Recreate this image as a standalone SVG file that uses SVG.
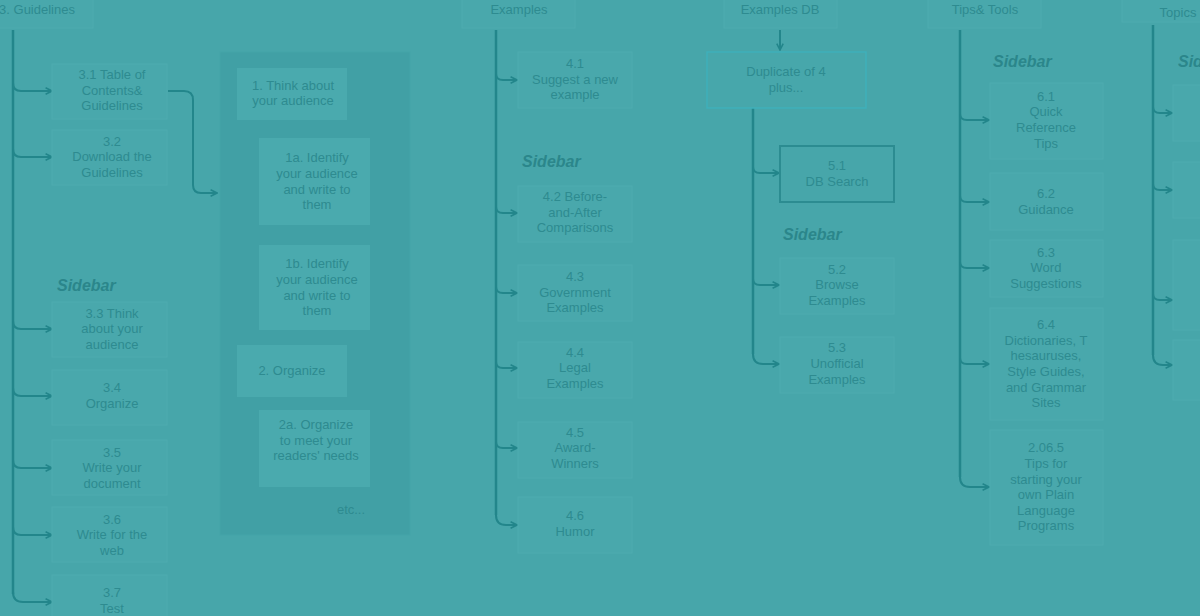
<svg xmlns="http://www.w3.org/2000/svg" width="1200" height="616" viewBox="0 0 1200 616">
<defs>
<marker id="arr" viewBox="0 0 10 10" refX="9" refY="5" markerWidth="8" markerHeight="8" markerUnits="userSpaceOnUse" orient="auto">
<path d="M1,1 L9,5 L1,9" fill="none" stroke="#23868b" stroke-width="2"/>
</marker>
<style>
.bg{fill:#47a6aa}
.grp{fill:#41a0a5;stroke:#45a4a8;stroke-width:1}
.n{fill:#49a8ac;stroke:#4fabaf;stroke-width:1}
.ni{fill:#4aaaae;stroke:none}
.hl{fill:#47a7ab;stroke:#3fb0ba;stroke-width:1.5}
.dk{fill:#47a6aa;stroke:#2c8c91;stroke-width:2}
.t{font-family:"Liberation Sans",Arial,sans-serif;font-size:13px;fill:#2e8b90;text-anchor:middle}
.sb{font-family:"Liberation Sans",Arial,sans-serif;font-size:16px;font-weight:bold;font-style:italic;fill:#2b868b}
.c{fill:none;stroke:#23868b;stroke-width:2.5}
.b{fill:none;stroke:#23868b;stroke-width:2;marker-end:url(#arr)}
</style>
</defs>
<rect class="bg" x="0" y="0" width="1200" height="616"/>

<g id="connectors">
<path class="c" d="M13,30 V594"/>
<path class="b" d="M13,83 Q13,91 21,91 H52"/>
<path class="b" d="M13,149 Q13,157 21,157 H52"/>
<path class="b" d="M13,321 Q13,329 21,329 H52"/>
<path class="b" d="M13,388 Q13,396 21,396 H52"/>
<path class="b" d="M13,460 Q13,468 21,468 H52"/>
<path class="b" d="M13,527 Q13,535 21,535 H52"/>
<path class="b" d="M13,592 Q13,602 23,602 H52"/>
<path class="b" d="M168,91 H184 Q193,91 193,100 V185 Q193,193 201,193 H217"/>

<path class="c" d="M496,30 V515"/>
<path class="b" d="M496,74 Q496,80 503,80 H517"/>
<path class="b" d="M496,207 Q496,213 503,213 H517"/>
<path class="b" d="M496,287 Q496,293 503,293 H517"/>
<path class="b" d="M496,362 Q496,368 503,368 H517"/>
<path class="b" d="M496,442 Q496,448 503,448 H517"/>
<path class="b" d="M496,515 Q496,525 506,525 H517"/>

<path class="b" d="M780,30 V50"/>
<path class="c" d="M753,108 V354"/>
<path class="b" d="M753,167 Q753,173 760,173 H779"/>
<path class="b" d="M753,279 Q753,285 760,285 H779"/>
<path class="b" d="M753,354 Q753,364 763,364 H779"/>

<path class="c" d="M960,30 V477"/>
<path class="b" d="M960,114 Q960,120 967,120 H989"/>
<path class="b" d="M960,196 Q960,202 967,202 H989"/>
<path class="b" d="M960,262 Q960,268 967,268 H989"/>
<path class="b" d="M960,358 Q960,364 967,364 H989"/>
<path class="b" d="M960,477 Q960,487 970,487 H989"/>

<path class="c" d="M1153,25 V355"/>
<path class="b" d="M1153,107 Q1153,113 1160,113 H1172"/>
<path class="b" d="M1153,184 Q1153,190 1160,190 H1172"/>
<path class="b" d="M1153,294 Q1153,300 1160,300 H1172"/>
<path class="b" d="M1153,355 Q1153,365 1163,365 H1172"/>
</g>

<g id="h3"><rect class="n" x="-20" y="-20" width="113" height="48"/><text class="t" x="37" y="14">3. Guidelines</text></g>
<g id="n31"><rect class="n" x="52" y="64" width="115" height="55"/><text class="t" x="112" y="79">3.1 Table of</text><text class="t" x="112" y="95">Contents&amp;</text><text class="t" x="112" y="110">Guidelines</text></g>
<g id="n32"><rect class="n" x="52" y="130" width="115" height="55"/><text class="t" x="112" y="146">3.2</text><text class="t" x="112" y="161">Download the</text><text class="t" x="112" y="177">Guidelines</text></g>
<text class="sb" x="57" y="291">Sidebar</text>
<g id="n33"><rect class="n" x="52" y="302" width="115" height="55"/><text class="t" x="112" y="318">3.3 Think</text><text class="t" x="112" y="333">about your</text><text class="t" x="112" y="349">audience</text></g>
<g id="n34"><rect class="n" x="52" y="370" width="115" height="55"/><text class="t" x="112" y="392">3.4</text><text class="t" x="112" y="408">Organize</text></g>
<g id="n35"><rect class="n" x="52" y="440" width="115" height="55"/><text class="t" x="112" y="457">3.5</text><text class="t" x="112" y="472">Write your</text><text class="t" x="112" y="488">document</text></g>
<g id="n36"><rect class="n" x="52" y="507" width="115" height="55"/><text class="t" x="112" y="524">3.6</text><text class="t" x="112" y="539">Write for the</text><text class="t" x="112" y="555">web</text></g>
<g id="n37"><rect class="n" x="52" y="575" width="115" height="55"/><text class="t" x="112" y="597">3.7</text><text class="t" x="112" y="613">Test</text></g>

<g id="detail"><rect class="grp" x="220" y="52" width="190" height="483"/>
<g id="d1"><rect class="ni" x="237" y="68" width="110" height="52"/><text class="t" x="293" y="90">1. Think about</text><text class="t" x="293" y="105">your audience</text></g>
<g id="d1a"><rect class="ni" x="259" y="138" width="111" height="87"/><text class="t" x="317" y="162">1a. Identify</text><text class="t" x="317" y="178">your audience</text><text class="t" x="317" y="194">and write to</text><text class="t" x="317" y="209">them</text></g>
<g id="d1b"><rect class="ni" x="259" y="245" width="111" height="85"/><text class="t" x="317" y="268">1b. Identify</text><text class="t" x="317" y="284">your audience</text><text class="t" x="317" y="300">and write to</text><text class="t" x="317" y="315">them</text></g>
<g id="d2"><rect class="ni" x="237" y="345" width="110" height="52"/><text class="t" x="292" y="375">2. Organize</text></g>
<g id="d2a"><rect class="ni" x="259" y="410" width="111" height="77"/><text class="t" x="316" y="429">2a. Organize</text><text class="t" x="316" y="445">to meet your</text><text class="t" x="316" y="460">readers' needs</text></g>
<text class="t" x="351" y="514">etc...</text>
</g>

<g id="h4"><rect class="n" x="462" y="-20" width="113" height="48"/><text class="t" x="519" y="14">Examples</text></g>
<g id="n41"><rect class="n" x="518" y="52" width="114" height="56"/><text class="t" x="575" y="68">4.1</text><text class="t" x="575" y="84">Suggest a new</text><text class="t" x="575" y="99">example</text></g>
<text class="sb" x="522" y="167">Sidebar</text>
<g id="n42"><rect class="n" x="518" y="186" width="114" height="56"/><text class="t" x="575" y="201">4.2 Before-</text><text class="t" x="575" y="217">and-After</text><text class="t" x="575" y="232">Comparisons</text></g>
<g id="n43"><rect class="n" x="518" y="265" width="114" height="56"/><text class="t" x="575" y="281">4.3</text><text class="t" x="575" y="297">Government</text><text class="t" x="575" y="312">Examples</text></g>
<g id="n44"><rect class="n" x="518" y="342" width="114" height="56"/><text class="t" x="575" y="357">4.4</text><text class="t" x="575" y="372">Legal</text><text class="t" x="575" y="388">Examples</text></g>
<g id="n45"><rect class="n" x="518" y="422" width="114" height="56"/><text class="t" x="575" y="437">4.5</text><text class="t" x="575" y="452">Award-</text><text class="t" x="575" y="468">Winners</text></g>
<g id="n46"><rect class="n" x="518" y="497" width="114" height="56"/><text class="t" x="575" y="520">4.6</text><text class="t" x="575" y="536">Humor</text></g>

<g id="h5"><rect class="n" x="724" y="-20" width="113" height="48"/><text class="t" x="780" y="14">Examples DB</text></g>
<g id="n5"><rect class="hl" x="707" y="52" width="159" height="56"/><text class="t" x="786" y="76">Duplicate of 4</text><text class="t" x="786" y="92">plus...</text></g>
<g id="n51"><rect class="dk" x="780" y="146" width="114" height="56"/><text class="t" x="837" y="170">5.1</text><text class="t" x="837" y="186">DB Search</text></g>
<text class="sb" x="783" y="240">Sidebar</text>
<g id="n52"><rect class="n" x="780" y="258" width="114" height="56"/><text class="t" x="837" y="274">5.2</text><text class="t" x="837" y="289">Browse</text><text class="t" x="837" y="305">Examples</text></g>
<g id="n53"><rect class="n" x="780" y="337" width="114" height="56"/><text class="t" x="837" y="352">5.3</text><text class="t" x="837" y="368">Unofficial</text><text class="t" x="837" y="384">Examples</text></g>

<g id="h6"><rect class="n" x="928" y="-20" width="113" height="48"/><text class="t" x="985" y="14">Tips&amp;  Tools</text></g>
<text class="sb" x="993" y="67">Sidebar</text>
<g id="n61"><rect class="n" x="990" y="83" width="113" height="76"/><text class="t" x="1046" y="101">6.1</text><text class="t" x="1046" y="116">Quick</text><text class="t" x="1046" y="132">Reference</text><text class="t" x="1046" y="148">Tips</text></g>
<g id="n62"><rect class="n" x="990" y="173" width="113" height="57"/><text class="t" x="1046" y="198">6.2</text><text class="t" x="1046" y="214">Guidance</text></g>
<g id="n63"><rect class="n" x="990" y="240" width="113" height="57"/><text class="t" x="1046" y="257">6.3</text><text class="t" x="1046" y="272">Word</text><text class="t" x="1046" y="288">Suggestions</text></g>
<g id="n64"><rect class="n" x="990" y="308" width="113" height="112"/><text class="t" x="1046" y="329">6.4</text><text class="t" x="1046" y="345">Dictionaries, T</text><text class="t" x="1046" y="360">hesauruses,</text><text class="t" x="1046" y="376">Style Guides,</text><text class="t" x="1046" y="392">and Grammar</text><text class="t" x="1046" y="407">Sites</text></g>
<g id="n65"><rect class="n" x="990" y="430" width="113" height="115"/><text class="t" x="1046" y="452">2.06.5</text><text class="t" x="1046" y="468">Tips for</text><text class="t" x="1046" y="484">starting your</text><text class="t" x="1046" y="499">own Plain</text><text class="t" x="1046" y="515">Language</text><text class="t" x="1046" y="530">Programs</text></g>

<g id="h7"><rect class="n" x="1122" y="-20" width="113" height="42"/><text class="t" x="1178" y="17">Topics</text></g>
<text class="sb" x="1178" y="67">Sidebar</text>
<g id="n71"><rect class="n" x="1173" y="85" width="113" height="56"/><text class="t" x="1230" y="124">Quick</text></g>
<g id="n72"><rect class="n" x="1173" y="162" width="113" height="56"/></g>
<g id="n73"><rect class="n" x="1173" y="240" width="113" height="90"/><text class="t" x="1230" y="295">Common</text></g>
<g id="n74"><rect class="n" x="1173" y="340" width="113" height="60"/><text class="t" x="1230" y="384">Common</text></g>
</svg>
